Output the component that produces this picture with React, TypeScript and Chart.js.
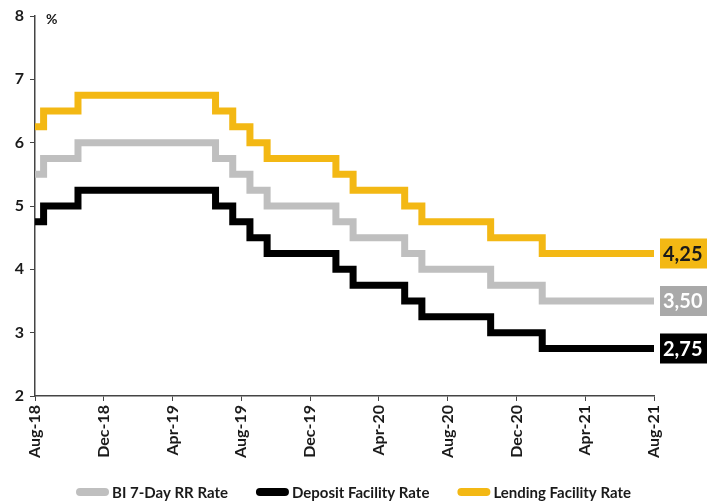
import { useEffect, useRef } from 'react';
import { Chart, registerables } from 'chart.js';

Chart.register(...registerables);

const months = [
  'Aug-18', 'Sep-18', 'Oct-18', 'Nov-18', 'Dec-18', 'Jan-19', 'Feb-19', 'Mar-19', 'Apr-19', 'May-19', 'Jun-19', 'Jul-19',
  'Aug-19', 'Sep-19', 'Oct-19', 'Nov-19', 'Dec-19', 'Jan-20', 'Feb-20', 'Mar-20', 'Apr-20', 'May-20', 'Jun-20', 'Jul-20',
  'Aug-20', 'Sep-20', 'Oct-20', 'Nov-20', 'Dec-20', 'Jan-21', 'Feb-21', 'Mar-21', 'Apr-21', 'May-21', 'Jun-21', 'Jul-21',
  'Aug-21',
];

const biRate = [
  5.5, 5.75, 5.75, 6, 6, 6, 6, 6, 6, 6, 6, 5.75,
  5.5, 5.25, 5, 5, 5, 5, 4.75, 4.5, 4.5, 4.5, 4.25, 4,
  4, 4, 4, 3.75, 3.75, 3.75, 3.5, 3.5, 3.5, 3.5, 3.5, 3.5,
  3.5,
];

const depositRate = [
  4.75, 5, 5, 5.25, 5.25, 5.25, 5.25, 5.25, 5.25, 5.25, 5.25, 5,
  4.75, 4.5, 4.25, 4.25, 4.25, 4.25, 4, 3.75, 3.75, 3.75, 3.5, 3.25,
  3.25, 3.25, 3.25, 3, 3, 3, 2.75, 2.75, 2.75, 2.75, 2.75, 2.75,
  2.75,
];

const lendingRate = [
  6.25, 6.5, 6.5, 6.75, 6.75, 6.75, 6.75, 6.75, 6.75, 6.75, 6.75, 6.5,
  6.25, 6, 5.75, 5.75, 5.75, 5.75, 5.5, 5.25, 5.25, 5.25, 5, 4.75,
  4.75, 4.75, 4.75, 4.5, 4.5, 4.5, 4.25, 4.25, 4.25, 4.25, 4.25, 4.25,
  4.25,
];

const seriesNames = ['BI 7-Day RR Rate', 'Deposit Facility Rate', 'Lending Facility Rate'];
const lineColors = ['#BFBFBF', '#000000', '#F3B814'];
const boxColors = ['#A9A9A9', '#000000', '#F3B814'];
const boxTextColors = ['#FFFFFF', '#FFFFFF', '#1A1A1A'];

const FONT = 'Lato, "Liberation Sans", sans-serif';

const toPoints = (arr: number[]) => arr.map((v, i) => ({ x: i, y: v }));

const endLabels = {
  id: 'endLabels',
  afterDatasetsDraw(chart: any) {
    const { ctx, chartArea, scales } = chart;
    const y = scales.y;
    ctx.save();
    chart.data.datasets.forEach((ds: any, i: number) => {
      const last = ds.data[ds.data.length - 1];
      const py = y.getPixelForValue(last.y);
      const x0 = chartArea.right + 6;
      ctx.fillStyle = boxColors[i];
      ctx.fillRect(x0, py - 15, 50, 30);
      ctx.fillStyle = boxTextColors[i];
      ctx.font = `bold 20px ${FONT}`;
      ctx.textBaseline = 'middle';
      ctx.textAlign = 'left';
      ctx.fillText(last.y.toFixed(2).replace('.', ','), x0 + 3, py + 1);
    });
    const top = y.getPixelForValue(8);
    ctx.fillStyle = '#1A1A1A';
    ctx.font = `bold 14px ${FONT}`;
    ctx.textBaseline = 'middle';
    ctx.fillText('%', chartArea.left + 11, top + 3);
    ctx.restore();
  },
};

const lineLegend = {
  id: 'lineLegend',
  afterDraw(chart: any) {
    const { ctx } = chart;
    const lineLen = 33;
    const gapText = 3;
    const gapItem = 28;
    ctx.save();
    ctx.font = `bold 15px ${FONT}`;
    ctx.textBaseline = 'middle';
    ctx.textAlign = 'left';
    const items = chart.data.datasets.map((ds: any) => ({
      label: ds.label,
      color: ds.borderColor,
      w: lineLen + gapText + ctx.measureText(ds.label).width,
    }));
    const total = items.reduce((s: number, it: any) => s + it.w, 0) + gapItem * (items.length - 1);
    let x = (chart.width - total) / 2;
    const cy = chart.height - 11;
    items.forEach((it: any) => {
      ctx.strokeStyle = it.color;
      ctx.lineWidth = 8;
      ctx.lineCap = 'round';
      ctx.beginPath();
      ctx.moveTo(x + 4, cy);
      ctx.lineTo(x + lineLen - 4, cy);
      ctx.stroke();
      ctx.fillStyle = '#1A1A1A';
      ctx.fillText(it.label, x + lineLen + gapText, cy + 1);
      x += it.w + gapItem;
    });
    ctx.restore();
  },
};

export default function App() {
  const ref = useRef<HTMLCanvasElement>(null);

  useEffect(() => {
    document.body.style.margin = '0';
    const canvas = ref.current!;
    const order = [biRate, depositRate, lendingRate];
    const chart = new Chart(canvas, {
      type: 'line',
      data: {
        datasets: order.map((arr, i) => ({
          label: seriesNames[i],
          data: toPoints(arr),
          borderColor: lineColors[i],
          backgroundColor: lineColors[i],
          borderWidth: 7,
          pointRadius: 0,
          stepped: 'middle' as const,
          fill: false,
          borderJoinStyle: 'miter' as const,
          borderCapStyle: 'butt' as const,
        })),
      },
      options: {
        animation: false,
        responsive: false,
        devicePixelRatio: 1,
        layout: { padding: { top: 16, right: 53, left: 0, bottom: 0 } },
        plugins: {
          legend: { display: false },
          tooltip: { enabled: false },
        },
        scales: {
          x: {
            type: 'linear',
            min: 0,
            max: months.length - 1,
            grid: {
              display: true,
              drawOnChartArea: false,
              drawTicks: true,
              tickLength: 5,
              color: '#444',
            },
            border: { display: true, color: '#444', width: 1.5 },
            ticks: {
              stepSize: 4,
              autoSkip: false,
              maxRotation: 90,
              minRotation: 90,
              padding: 4,
              color: '#1A1A1A',
              font: { family: FONT, size: 16, weight: 'bold' },
              callback: (v: any) => months[Number(v)] ?? '',
            },
            afterFit: (s: any) => {
              s.height = 107;
            },
          },
          y: {
            min: 2,
            max: 8,
            grid: {
              display: true,
              drawOnChartArea: false,
              drawTicks: true,
              tickLength: 5,
              color: '#444',
            },
            border: { display: true, color: '#444', width: 1.5 },
            ticks: {
              stepSize: 1,
              padding: 6,
              color: '#1A1A1A',
              font: { family: FONT, size: 16, weight: 'bold' },
            },
            afterFit: (s: any) => {
              s.width = 35;
            },
          },
        },
      },
      plugins: [endLabels, lineLegend],
    });
    return () => chart.destroy();
  }, []);

  return (
    <div style={{ position: 'absolute', left: 0, top: 0, width: 707, height: 503, background: '#fff' }}>
      <canvas ref={ref} width={707} height={503} style={{ width: 707, height: 503 }} />
    </div>
  );
}
